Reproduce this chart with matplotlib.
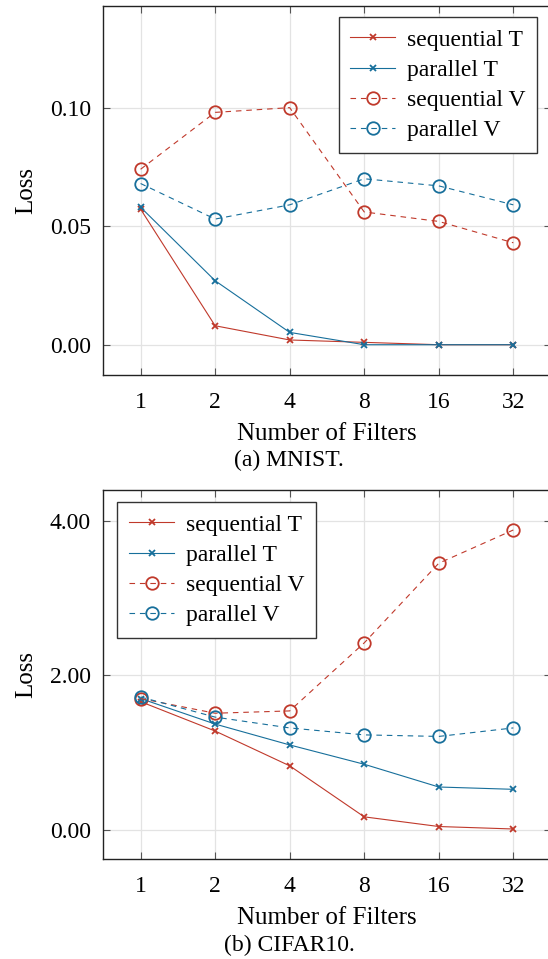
import matplotlib
matplotlib.use("Agg")
import matplotlib.pyplot as plt
import numpy as np

plt.rcParams["font.family"] = ["Liberation Serif", "DejaVu Serif"]
plt.rcParams["mathtext.fontset"] = "stix"
plt.rcParams["lines.scale_dashes"] = False

filters = [1, 2, 4, 8, 16, 32]
tick_labels = ["1", "2", "4", "8", "16", "32"]

# MNIST losses
mnist_seq_T = [0.0572, 0.0080, 0.0020, 0.0010, 0.0000, 0.0000]
mnist_par_T = [0.0580, 0.0270, 0.0052, 0.0000, 0.0000, 0.0000]
mnist_seq_V = [0.0740, 0.0980, 0.1000, 0.0560, 0.0520, 0.0430]
mnist_par_V = [0.0680, 0.0530, 0.0590, 0.0700, 0.0670, 0.0590]

# CIFAR10 losses
cifar_seq_T = [1.66, 1.28, 0.83, 0.17, 0.045, 0.013]
cifar_par_T = [1.70, 1.37, 1.10, 0.85, 0.556, 0.526]
cifar_seq_V = [1.70, 1.51, 1.54, 2.42, 3.45, 3.88]
cifar_par_V = [1.72, 1.46, 1.32, 1.23, 1.21, 1.32]

red = "#c0392b"
blue = "#176f9b"
series_names = ["sequential T", "parallel T", "sequential V", "parallel V"]

W, H = 548, 959
fig = plt.figure(figsize=(W / 100, H / 100), dpi=100)


def px_axes(left, top, right, bottom):
    return fig.add_axes([left / W, 1 - bottom / H, (right - left) / W, (bottom - top) / H])


def draw_panel(ax, seq_T, par_T, seq_V, par_V, ylim, yticks, ytick_labels):
    ax.plot(filters, seq_T, color=red, lw=0.8, marker="x", ms=5, mew=1.3, label=series_names[0])
    ax.plot(filters, par_T, color=blue, lw=0.8, marker="x", ms=5, mew=1.3, label=series_names[1])
    ax.plot(filters, seq_V, color=red, lw=0.8, dashes=[4, 3.5], marker="o", ms=9, mew=1.3,
            mfc="none", label=series_names[2])
    ax.plot(filters, par_V, color=blue, lw=0.8, dashes=[4, 3.5], marker="o", ms=9, mew=1.3,
            mfc="none", label=series_names[3])

    ax.set_xscale("log", base=2)
    ax.set_xlim(2 ** -0.5, 2 ** 5.5)
    ax.set_xticks(filters)
    ax.set_xticklabels(tick_labels)
    ax.minorticks_off()
    ax.set_ylim(*ylim)
    ax.set_yticks(yticks)
    ax.set_yticklabels(ytick_labels)

    ax.grid(True, color="#e3e3e3", lw=0.9)
    ax.set_axisbelow(True)
    ax.tick_params(direction="in", length=5, width=0.8, color="#555555",
                   top=True, right=True, labelsize=17, pad=9)
    ax.tick_params(axis="x", pad=12)
    for sp in ax.spines.values():
        sp.set_linewidth(1.0)
        sp.set_color("#222222")

    ax.set_xlabel("Number of Filters", fontsize=18, labelpad=7)
    ax.set_ylabel("Loss", fontsize=18, labelpad=9)


def add_legend(ax, loc, anchor):
    ax.legend(loc=loc, bbox_to_anchor=anchor, bbox_transform=fig.transFigure,
              borderaxespad=0, fancybox=False, framealpha=1, edgecolor="#333333",
              fontsize=17, handlelength=1.9, handletextpad=0.5, labelspacing=0.37,
              borderpad=0.5)


ax1 = px_axes(103.3, 5.7, 550.6, 375.3)
draw_panel(ax1, mnist_seq_T, mnist_par_T, mnist_seq_V, mnist_par_V,
           (-0.0129, 0.143), [0.0, 0.05, 0.10], ["0.00", "0.05", "0.10"])
add_legend(ax1, "upper right", (537.3 / W, 1 - 17.3 / H))
fig.text(289 / W, 1 - 460 / H, "(a) MNIST.", ha="center", va="center", fontsize=17)

ax2 = px_axes(103.3, 490, 550.6, 859.3)
draw_panel(ax2, cifar_seq_T, cifar_par_T, cifar_seq_V, cifar_par_V,
           (-0.379, 4.397), [0.0, 2.0, 4.0], ["0.00", "2.00", "4.00"])
add_legend(ax2, "upper left", (117.3 / W, 1 - 502.3 / H))
fig.text(289 / W, 1 - 945 / H, "(b) CIFAR10.", ha="center", va="center", fontsize=17)

fig.savefig("out.png", dpi=100)
